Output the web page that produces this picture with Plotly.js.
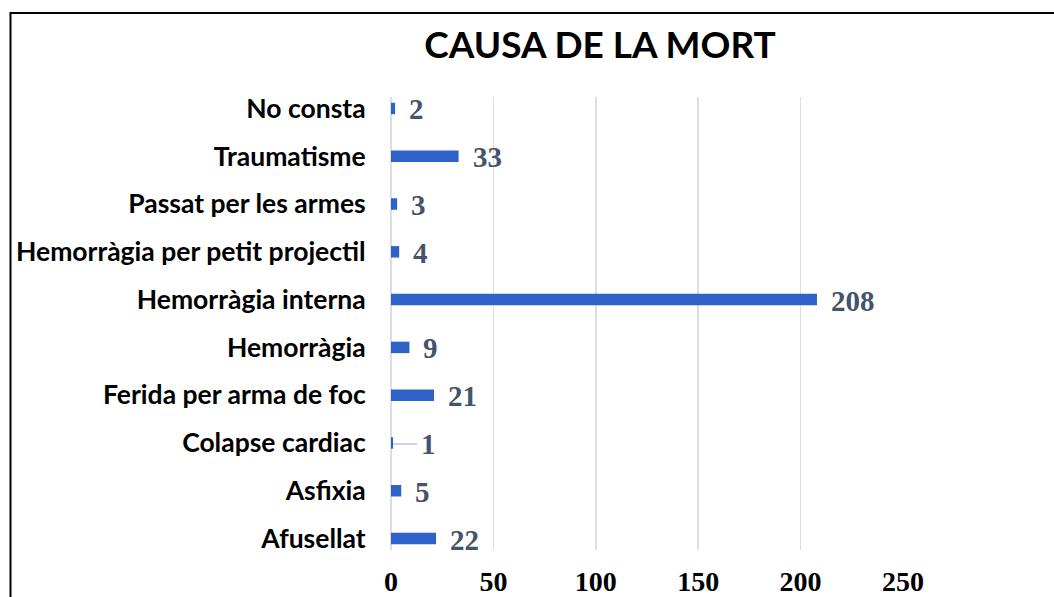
<!DOCTYPE html>
<html>
<head>
<meta charset="utf-8">
<script src="https://cdn.plot.ly/plotly-3.0.1.min.js"></script>
<style>html,body{margin:0;padding:0;background:#fff;}#chart{width:1054px;height:597px;}</style>
</head>
<body>
<div id="chart"></div>
<script>
const categories = ["Afusellat", "Asfixia", "Colapse cardiac", "Ferida per arma de foc", "Hemorràgia", "Hemorràgia interna", "Hemorràgia per petit projectil", "Passat per les armes", "Traumatisme", "No consta"];
const values = [22, 5, 1, 21, 9, 208, 4, 3, 33, 2];
const xTicks = [0, 50, 100, 150, 200, 250];
const titleText = "CAUSA DE LA MORT";

const barColor = "#2E62C9";
const labelColor = "#44546A";
const gridColor = "#D9DDE6";

const trace = {
  type: "bar",
  orientation: "h",
  x: values,
  y: categories,
  width: 0.24,
  marker: {color: barColor},
  hoverinfo: "x+y"
};

const annotations = values.map((v, i) => {
  const a = {
    x: v, y: categories[i], xref: "x", yref: "y",
    text: String(v), showarrow: false, xanchor: "left", yanchor: "middle",
    xshift: 12, yshift: -1,
    font: {family: "Liberation Serif", size: 29, color: labelColor, weight: "bold"}
  };
  if (v === 1) {
    a.showarrow = true; a.arrowhead = 0; a.arrowwidth = 1; a.arrowcolor = "#8EA9DB";
    a.ax = 26; a.ay = 0; a.xshift = 0; a.standoff = 0; a.startstandoff = 2;
  }
  return a;
});

const layout = {
  width: 1054, height: 597,
  margin: {l: 391, r: 151, t: 97, b: 47},
  paper_bgcolor: "#ffffff", plot_bgcolor: "#ffffff",
  showlegend: false,
  title: {
    text: titleText, xref: "container", yref: "container",
    x: 600/1054, y: 1 - 45/597, xanchor: "center", yanchor: "middle",
    font: {family: "Lato", size: 37, color: "#000000", weight: "bold"}
  },
  xaxis: {
    range: [0, 250], tickvals: xTicks, ticktext: xTicks.map(String),
    showgrid: true, gridcolor: gridColor, gridwidth: 1.5,
    zeroline: true, zerolinecolor: gridColor, zerolinewidth: 1.5,
    showline: false, ticks: "outside", ticklen: 6, tickcolor: "rgba(0,0,0,0)",
    tickfont: {family: "Liberation Serif", size: 28, color: "#000000", weight: "bold"},
    fixedrange: true
  },
  yaxis: {
    type: "category", range: [-0.24, 9.24],
    showgrid: false, zeroline: false, showline: false,
    ticks: "outside", ticklen: 19, tickcolor: "rgba(0,0,0,0)",
    tickfont: {family: "Lato", size: 26.5, color: "#000000", weight: "bold"},
    fixedrange: true
  },
  annotations: annotations,
  shapes: [{
    type: "rect", xref: "paper", yref: "paper",
    x0: (10.5 - 391) / 512, x1: 1.5, y0: -0.5, y1: (550 - 13) / 453,
    line: {color: "#000000", width: 2}, fillcolor: "rgba(0,0,0,0)", layer: "above"
  }]
};

Plotly.newPlot("chart", [trace], layout, {displayModeBar: false, staticPlot: true});
</script>
</body>
</html>
